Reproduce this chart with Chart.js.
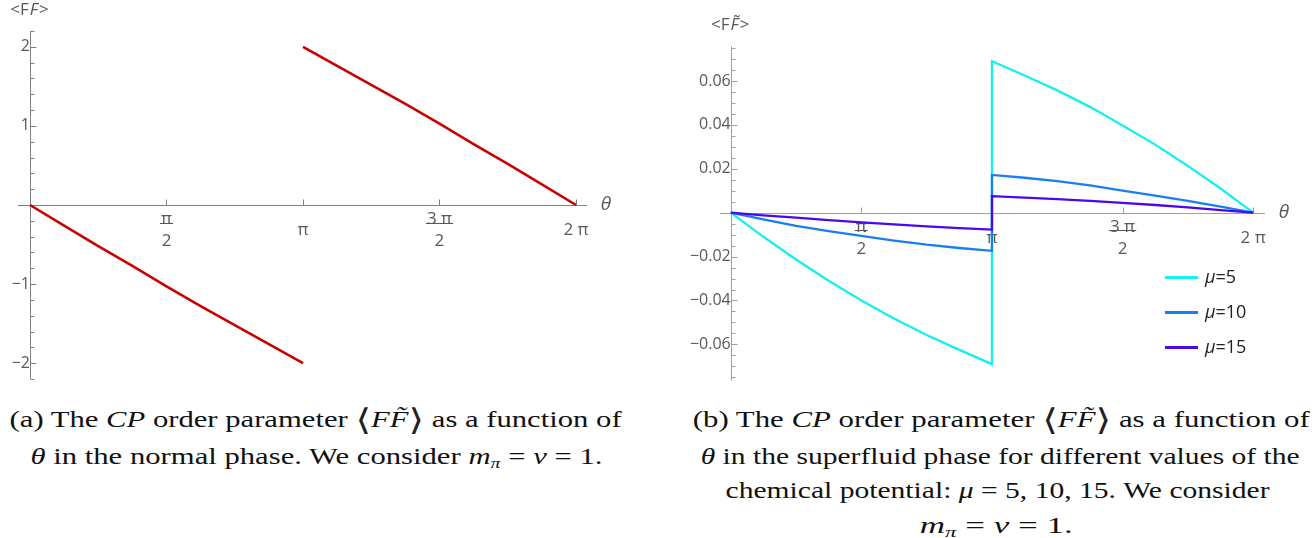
<!DOCTYPE html>
<html>
<head>
<meta charset="utf-8">
<script src="https://cdn.jsdelivr.net/npm/chart.js@4/dist/chart.umd.min.js"></script>
<style>
  html,body{margin:0;padding:0;background:#fff;}
  body{width:1315px;height:538px;overflow:hidden;position:relative;}
  .box{position:absolute;top:0;height:390px;}
  #boxA{left:0;width:650px;}
  #boxB{left:660px;width:655px;}
  .cap{position:absolute;white-space:nowrap;font-family:"Liberation Serif","Times New Roman","DejaVu Serif",serif;font-size:23px;line-height:22px;color:#111;transform-origin:50% 50%;}
  .cap i{font-style:italic;}
  .cap sub{font-size:15px;vertical-align:-4px;line-height:0;}
  .br{font-family:"DejaVu Serif",serif;font-size:30px;font-weight:100;vertical-align:-3px;line-height:0;color:#222;}
  #legend{position:absolute;left:500px;top:277px;font-family:"Open Sans",sans-serif;font-size:18px;color:#222;}
  .lg{position:absolute;left:0;height:30px;white-space:nowrap;}
  .lg .sw{position:absolute;left:5px;top:-1.5px;width:33px;height:3px;}
  .lg .tx{position:absolute;left:45px;top:-13px;line-height:25px;}
</style>
</head>
<body>
<div class="box" id="boxA"><canvas id="cA"></canvas></div>
<div class="box" id="boxB"><canvas id="cB"></canvas><div id="legend"></div></div>

<div class="cap" data-cx="316" data-w="612" style="top:409px">(a) The <i>CP</i> order parameter <span class="br">⟨</span><i>F</i><i>F̃</i><span class="br">⟩</span> as a function of</div>
<div class="cap" data-cx="316" data-w="572" style="top:446px"><i>θ</i> in the normal phase. We consider <i>m</i><sub><i>π</i></sub> = <i>ν</i> = 1.</div>
<div class="cap" data-cx="1001" data-w="617" style="top:409px">(b) The <i>CP</i> order parameter <span class="br">⟨</span><i>F</i><i>F̃</i><span class="br">⟩</span> as a function of</div>
<div class="cap" data-cx="1000" data-w="599" style="top:446px"><i>θ</i> in the superfluid phase for different values of the</div>
<div class="cap" data-cx="998" data-w="544" style="top:480px">chemical potential: <i>μ</i> = 5, 10, 15. We consider</div>
<div class="cap" data-cx="996" data-w="153" style="top:515px"><i>m</i><sub><i>π</i></sub> = <i>ν</i> = 1.</div>

<script>
// ---------------- data ----------------
// θ in units of π; null separates the two branches of panel (a)
const thetaOverPiA = [0, 0.125, 0.25, 0.375, 0.5, 0.625, 0.75, 0.875, 1, 1, 1, 1.125, 1.25, 1.375, 1.5, 1.625, 1.75, 1.875, 2];
const ffNormal     = [0, -0.26, -0.52, -0.77, -1.03, -1.28, -1.52, -1.76, -2.0, null, 2.0, 1.76, 1.52, 1.28, 1.03, 0.77, 0.52, 0.26, 0];

// panel (b): the jump at θ = π is drawn as a vertical segment
const thetaOverPiB = [0, 0.125, 0.25, 0.375, 0.5, 0.625, 0.75, 0.875, 1, 1, 1.125, 1.25, 1.375, 1.5, 1.625, 1.75, 1.875, 2];
const ffMu5  = [0, -0.0110, -0.0213, -0.0310, -0.0400, -0.0482, -0.0557, -0.0625, -0.0690, 0.0690, 0.0625, 0.0557, 0.0482, 0.0397, 0.0310, 0.0213, 0.0110, 0];
const ffMu10 = [0, -0.0031, -0.0060, -0.0084, -0.0106, -0.0127, -0.0146, -0.0161, -0.0174, 0.0172, 0.0159, 0.0144, 0.0124, 0.0100, 0.0078, 0.0054, 0.0028, 0];
const ffMu15 = [0, -0.0012, -0.0023, -0.0034, -0.0044, -0.0053, -0.0062, -0.0070, -0.0077, 0.0075, 0.0069, 0.0062, 0.0054, 0.0045, 0.0035, 0.0024, 0.0012, 0];

const seriesLabelsB = ["μ=5", "μ=10", "μ=15"];

// tick values / labels
const xTickValuesOverPi = [0.5, 1, 1.5, 2];
const xTickLabels = [["π", "2"], ["π"], ["3 π", "2"], ["2 π"]];
const yTickValuesA = [-2, -1, 1, 2];
const yTickLabelsA = ["−2", "−1", "1", "2"];
const yTickValuesB = [-0.06, -0.04, -0.02, 0.02, 0.04, 0.06];
const yTickLabelsB = ["−0.06", "−0.04", "−0.02", "0.02", "0.04", "0.06"];

// ---------------- helpers ----------------
const PI = Math.PI;
const toPts = (th, ys) => th.map((t, i) => ({x: t * PI, y: ys[i]}));
const TICK_COLOR = '#595959';
const TICK_FONT = {family: "'Open Sans', sans-serif", size: 17, lineHeight: 22 / 17};

function xScale(min, max) {
  return {
    type: 'linear', min, max, position: {y: 0},
    grid: {display: false, drawTicks: false}, border: {display: false},
    afterBuildTicks: s => { s.ticks = xTickValuesOverPi.map(v => ({value: v * PI})); },
    afterFit: s => { s.height = 0; s.paddingLeft = s.paddingRight = s.paddingTop = s.paddingBottom = 0; },
    ticks: {autoSkip: false, maxRotation: 0, minRotation: 0, crossAlign: 'center', padding: 14,
            color: TICK_COLOR, font: TICK_FONT, callback: (v, i) => xTickLabels[i]}
  };
}
function yScale(min, max, vals, labels) {
  return {
    type: 'linear', min, max, position: {x: 0},
    grid: {display: false, drawTicks: false}, border: {display: false},
    afterBuildTicks: s => { s.ticks = vals.map(v => ({value: v})); },
    afterFit: s => { s.width = 0; s.paddingLeft = s.paddingRight = s.paddingTop = s.paddingBottom = 0; },
    ticks: {autoSkip: false, padding: 6, color: TICK_COLOR, font: {family: "'Open Sans', sans-serif", size: 16},
            callback: (v, i) => labels[i]}
  };
}

// axes, ticks, fraction bars and axis labels in Mathematica style
const mmaAxes = {
  id: 'mmaAxes',
  beforeDatasetsDraw(chart, args, o) {
    const {ctx, chartArea: a, scales: {x, y}} = chart;
    const x0 = Math.round(x.getPixelForValue(0)) + 0.5;
    const y0 = Math.round(y.getPixelForValue(0)) + 0.5;
    ctx.save();
    ctx.strokeStyle = o.color; ctx.lineWidth = 1;
    ctx.beginPath();
    ctx.moveTo(a.left, y0); ctx.lineTo(a.right, y0);
    ctx.moveTo(x0, a.top); ctx.lineTo(x0, a.bottom);
    x.ticks.forEach(t => {
      const px = Math.round(x.getPixelForValue(t.value)) + 0.5;
      ctx.moveTo(px, y0); ctx.lineTo(px, y0 - o.major);
    });
    const k0 = Math.ceil(y.min / o.minorStep - 1e-9), k1 = Math.floor(y.max / o.minorStep + 1e-9);
    for (let k = k0; k <= k1; k++) {
      if (k === 0) continue;
      const py = Math.round(y.getPixelForValue(k * o.minorStep)) + 0.5;
      const len = (k % o.ratio === 0) ? o.major : o.minor;
      ctx.moveTo(x0, py); ctx.lineTo(x0 + len, py);
    }
    ctx.stroke();
    ctx.restore();
  },
  afterDraw(chart, args, o) {
    const {ctx, chartArea: a, scales: {x, y}} = chart;
    const x0 = x.getPixelForValue(0), y0 = y.getPixelForValue(0);
    ctx.save();
    // fraction bars under numerators
    ctx.font = "17px 'Open Sans', sans-serif";
    ctx.strokeStyle = TICK_COLOR; ctx.lineWidth = 1;
    x.ticks.forEach(t => {
      const lab = t.label;
      if (Array.isArray(lab) && lab.length === 2) {
        const w = Math.max(ctx.measureText(lab[0]).width, ctx.measureText(lab[1]).width) + 2;
        const px = x.getPixelForValue(t.value);
        const by = Math.round(y0 + o.barOffset) + 0.5;
        ctx.beginPath(); ctx.moveTo(px - w / 2, by); ctx.lineTo(px + w / 2, by); ctx.stroke();
      }
    });
    // θ label
    ctx.fillStyle = TICK_COLOR;
    ctx.font = "italic 19px 'Open Sans', sans-serif";
    ctx.textAlign = 'center'; ctx.textBaseline = 'middle';
    ctx.fillText('θ', a.right + 19, y0);
    // <F F~> label
    const parts = o.ylabel;
    ctx.textAlign = 'left';
    const fnt = p => (p[1] ? 'italic ' : '') + "17px 'Open Sans', sans-serif";
    const widths = parts.map(p => { ctx.font = fnt(p); return ctx.measureText(p[0]).width + 1; });
    const tot = widths.reduce((s, v) => s + v, 0);
    let cx = x0 - tot / 2;
    parts.forEach((p, i) => {
      ctx.font = fnt(p);
      ctx.fillText(p[0], cx, a.top - 21);
      cx += widths[i];
    });
    ctx.restore();
  }
};

Chart.register(mmaAxes);

// ---------------- chart (a) ----------------
new Chart(document.getElementById('cA'), {
  type: 'line',
  data: {datasets: [{
    data: toPts(thetaOverPiA, ffNormal),
    borderColor: '#c80000', borderWidth: 2.6, pointRadius: 0, tension: 0, fill: false, spanGaps: false
  }]},
  options: {
    responsive: true, maintainAspectRatio: false, animation: false,
    layout: {padding: {left: 18, right: 63, top: 31, bottom: 11}},
    plugins: {legend: {display: false}, tooltip: {enabled: false},
      mmaAxes: {color: '#808080', major: 6, minor: 4, minorStep: 0.2, ratio: 5, barOffset: 18,
                ylabel: [['<F', false], ['F', true], ['>', false]]}},
    scales: {x: xScale(-0.138, 6.41), y: yScale(-2.2, 2.2, yTickValuesA, yTickLabelsA)}
  }
});

// ---------------- chart (b) ----------------
const colorsB = ['#14f0f0', '#1a7fee', '#4a08ee'];
const dataB = [ffMu5, ffMu10, ffMu15];
new Chart(document.getElementById('cB'), {
  type: 'line',
  data: {datasets: dataB.map((d, i) => ({
    label: seriesLabelsB[i], data: toPts(thetaOverPiB, d),
    borderColor: colorsB[i], borderWidth: 2.3, pointRadius: 0, tension: 0, fill: false, order: 2 - i
  }))},
  options: {
    responsive: true, maintainAspectRatio: false, animation: false,
    layout: {padding: {left: 60, right: 50, top: 46.5, bottom: 9.4}},
    plugins: {legend: {display: false}, tooltip: {enabled: false},
      mmaAxes: {color: '#a0a0a0', major: 6, minor: 4, minorStep: 0.005, ratio: 4, barOffset: 17,
                ylabel: [['<F', false], ['F̃', true], ['>', false]]}},
    scales: {x: xScale(-0.129, 6.425), y: yScale(-0.0765, 0.0757, yTickValuesB, yTickLabelsB)}
  }
});

// legend (HTML, from series labels and colours)
const lg = document.getElementById('legend');
seriesLabelsB.forEach((lab, i) => {
  const row = document.createElement('div');
  row.className = 'lg'; row.style.top = (i * 35) + 'px';
  const sw = document.createElement('div'); sw.className = 'sw'; sw.style.background = colorsB[i];
  const tx = document.createElement('div'); tx.className = 'tx';
  tx.innerHTML = '<i>' + lab.slice(0, 1) + '</i>' + lab.slice(1);
  row.appendChild(sw); row.appendChild(tx); lg.appendChild(row);
});

// fit caption lines to their widths
function fitCaps() {
  document.querySelectorAll('.cap').forEach(el => {
    el.style.transform = 'none'; el.style.left = '0px';
    const w = el.getBoundingClientRect().width;
    const cx = +el.dataset.cx, tw = +el.dataset.w;
    el.style.left = (cx - w / 2) + 'px';
    el.style.transform = 'scaleX(' + (tw / w) + ')';
  });
}
fitCaps();
if (document.fonts && document.fonts.ready) document.fonts.ready.then(fitCaps);
</script>
</body>
</html>
